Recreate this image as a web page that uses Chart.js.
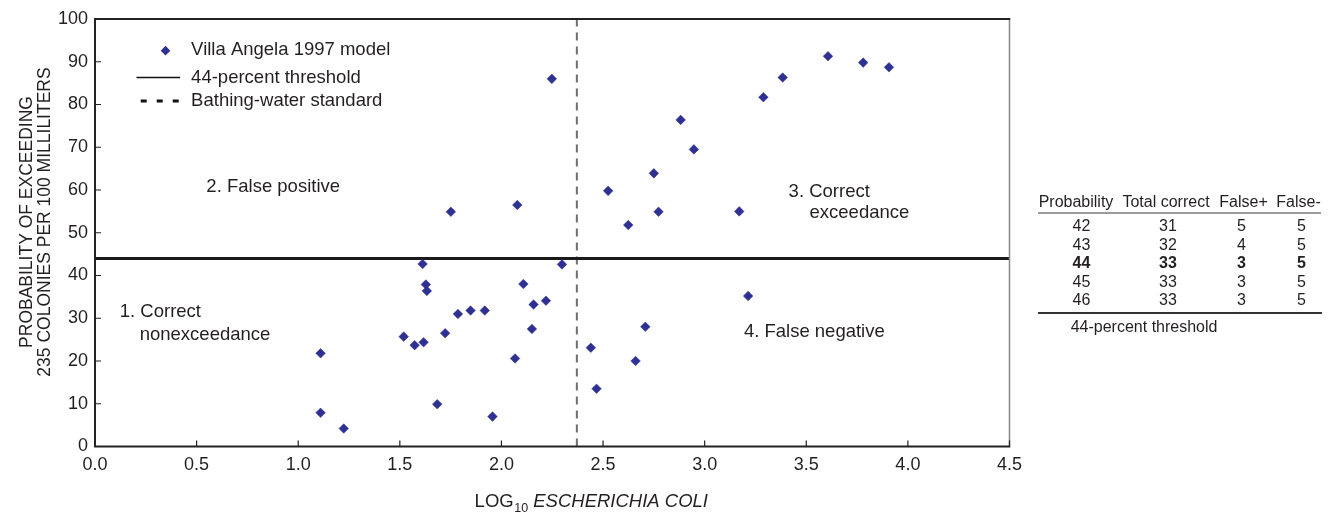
<!DOCTYPE html>
<html>
<head>
<meta charset="utf-8">
<script src="https://cdn.jsdelivr.net/npm/chart.js@4.4.0/dist/chart.umd.min.js"></script>
<style>
  html, body { margin:0; padding:0; background:#fff; width:1333px; height:516px; overflow:hidden;
    font-family:"Liberation Sans", Arial, Helvetica, sans-serif; }
  #wrap { position:absolute; left:0; top:0; width:1030px; height:516px; }
  #tbl { position:absolute; left:0; top:0; width:1333px; height:516px; color:#231f20; font-size:16px; pointer-events:none; }
  .cell { position:absolute; white-space:nowrap; line-height:16px; transform:translate(-50%,-50%); }
  .left { transform:translate(0,-50%); }
  .rule { position:absolute; }
</style>
</head>
<body>
<div id="wrap"><canvas id="chart"></canvas></div>
<div id="tbl"></div>
<script>
// ---------- data ----------
const logEColi = [1.110, 1.110, 1.224, 1.519, 1.573, 1.617, 1.612, 1.628, 1.633, 1.684,
                  1.723, 1.751, 1.786, 1.848, 1.918, 1.956, 2.067, 2.078, 2.108, 2.150,
                  2.158, 2.219, 2.248, 2.298, 2.440, 2.468, 2.525, 2.624, 2.660, 2.708,
                  2.750, 2.773, 2.882, 2.947, 3.170, 3.214, 3.289, 3.384, 3.607, 3.780, 3.907];
const probExceeding = [21.8, 7.9, 4.2, 25.7, 23.7, 24.4, 42.7, 37.9, 36.4, 9.9,
                       26.5, 54.9, 31.0, 31.8, 31.8, 7.0, 20.6, 56.5, 38.0, 27.5,
                       33.2, 34.1, 86.0, 42.6, 23.1, 13.5, 59.8, 51.8, 20.0, 28.0,
                       63.9, 54.9, 76.4, 69.5, 55.0, 35.2, 81.7, 86.3, 91.3, 89.8, 88.7];
const thresholdPercent = 44;
const bathingStandardLog = Math.log10(235);
const xTickValues = [0, 0.5, 1.0, 1.5, 2.0, 2.5, 3.0, 3.5, 4.0, 4.5];
const yTickValues = [0, 10, 20, 30, 40, 50, 60, 70, 80, 90, 100];

const seriesName = 'Villa Angela 1997 model';
const thresholdName = '44-percent threshold';
const standardName = 'Bathing-water standard';

const tableHeaders = ['Probability', 'Total correct', 'False+', 'False-'];
const tableProbability = [42, 43, 44, 45, 46];
const tableTotalCorrect = [31, 32, 33, 33, 33];
const tableFalsePositive = [5, 4, 3, 3, 3];
const tableFalseNegative = [5, 5, 5, 5, 5];
const tableBoldRow = 2;
const tableNote = '44-percent threshold';

// ---------- styles ----------
const FONT = '"Liberation Sans", Arial, Helvetica, sans-serif';
const TEXT = '#231f20';
const MARK = '#2e3092';

const quadrantLabels = [
  { text: '2. False positive', x: 0.548, y: 60.8 },
  { text: '1. Correct', x: 0.122, y: 31.5 },
  { text: 'nonexceedance', x: 0.220, y: 26.1 },
  { text: '3. Correct', x: 3.413, y: 59.6 },
  { text: 'exceedance', x: 3.516, y: 54.7 },
  { text: '4. False negative', x: 3.193, y: 26.9 }
];

const decorPlugin = {
  id: 'decor',
  afterDraw(chart) {
    const ctx = chart.ctx, ca = chart.chartArea;
    const xs = chart.scales.x, ys = chart.scales.y;
    ctx.save();
    // frame
    ctx.lineCap = 'butt';
    ctx.strokeStyle = '#888'; ctx.lineWidth = 1.5;
    ctx.beginPath(); ctx.moveTo(ca.right, ca.top); ctx.lineTo(ca.right, ca.bottom); ctx.stroke();
    ctx.strokeStyle = '#222'; ctx.lineWidth = 2;
    ctx.beginPath();
    ctx.moveTo(ca.left, ca.top); ctx.lineTo(ca.right + 0.75, ca.top);
    ctx.moveTo(ca.left, ca.top - 1); ctx.lineTo(ca.left, ca.bottom + 1);
    ctx.moveTo(ca.left - 1, ca.bottom); ctx.lineTo(ca.right + 0.75, ca.bottom);
    ctx.stroke();
    // inward ticks
    ctx.lineWidth = 1.2;
    ctx.beginPath();
    yTickValues.forEach(v => { const p = ys.getPixelForValue(v); ctx.moveTo(ca.left, p); ctx.lineTo(ca.left + 6, p); });
    xTickValues.forEach(v => { const p = xs.getPixelForValue(v); ctx.moveTo(p, ca.bottom); ctx.lineTo(p, ca.bottom - 6); });
    ctx.stroke();

    // quadrant labels
    ctx.fillStyle = TEXT;
    ctx.font = '18.5px ' + FONT;
    ctx.textAlign = 'left'; ctx.textBaseline = 'middle';
    quadrantLabels.forEach(l => ctx.fillText(l.text, xs.getPixelForValue(l.x), ys.getPixelForValue(l.y)));

    // legend
    const lx = v => xs.getPixelForValue(v), ly = v => ys.getPixelForValue(v);
    const dx = lx(0.347), dy = ly(92.6), r = 4.8;
    ctx.fillStyle = MARK;
    ctx.beginPath(); ctx.moveTo(dx, dy - r); ctx.lineTo(dx + r, dy); ctx.lineTo(dx, dy + r); ctx.lineTo(dx - r, dy); ctx.closePath(); ctx.fill();
    ctx.strokeStyle = '#111'; ctx.lineWidth = 1.5;
    ctx.beginPath(); ctx.moveTo(lx(0.204), ly(86.3)); ctx.lineTo(lx(0.419), ly(86.3)); ctx.stroke();
    ctx.lineWidth = 3; ctx.setLineDash([6, 10]);
    ctx.beginPath(); ctx.moveTo(lx(0.225), ly(80.8)); ctx.lineTo(lx(0.424), ly(80.8)); ctx.stroke();
    ctx.setLineDash([]);
    ctx.fillStyle = TEXT;
    ctx.fillText(seriesName, lx(0.473), ly(92.7));
    ctx.fillText(thresholdName, lx(0.473), ly(86.3));
    ctx.fillText(standardName, lx(0.473), ly(80.8));

    // y-axis title (two lines)
    ctx.font = '17.5px ' + FONT;
    ctx.textAlign = 'center'; ctx.textBaseline = 'alphabetic';
    const tcy = 222;
    [['PROBABILITY OF EXCEEDING', 31.5], ['235 COLONIES PER 100 MILLILITERS', 50]].forEach(([t, bx]) => {
      ctx.save(); ctx.translate(bx, tcy); ctx.rotate(-Math.PI / 2); ctx.fillText(t, 0, 0); ctx.restore();
    });

    // x-axis title: LOG10 ESCHERICHIA COLI
    ctx.textAlign = 'left';
    let tx = lx(1.868); const tby = 506.5;
    ctx.font = '18.5px ' + FONT; ctx.fillText('LOG', tx, tby); tx += ctx.measureText('LOG').width;
    ctx.font = '12.5px ' + FONT; ctx.fillText('10', tx + 0.5, tby + 5.5); tx += ctx.measureText('10').width + 0.5;
    ctx.font = 'italic 18.5px ' + FONT; ctx.fillText(' ESCHERICHIA COLI', tx, tby);
    ctx.restore();
  }
};

new Chart(document.getElementById('chart'), {
  data: {
    datasets: [
      {
        type: 'scatter', label: seriesName,
        data: logEColi.map((x, i) => ({ x, y: probExceeding[i] })),
        pointStyle: 'rectRot', pointRadius: 4.8, pointHoverRadius: 4.8,
        backgroundColor: MARK, borderColor: MARK, borderWidth: 0.5, order: 0
      },
      {
        type: 'line', label: thresholdName,
        data: [{ x: 0, y: thresholdPercent }, { x: 4.5, y: thresholdPercent }],
        borderColor: '#1a1a1a', borderWidth: 3, pointRadius: 0, order: 2
      },
      {
        type: 'line', label: standardName,
        data: [{ x: bathingStandardLog, y: 0 }, { x: bathingStandardLog, y: 100 }],
        borderColor: '#6e6e6e', borderWidth: 2, borderDash: [8, 6], pointRadius: 0, order: 3
      }
    ]
  },
  options: {
    responsive: true, maintainAspectRatio: false, animation: false,
    layout: { padding: { left: 0, top: 19, right: 15, bottom: 0 } },
    plugins: { legend: { display: false }, tooltip: { enabled: false } },
    scales: {
      x: {
        type: 'linear', min: 0, max: 4.5,
        afterBuildTicks: s => { s.ticks = xTickValues.map(v => ({ value: v })); },
        afterFit: s => { s.height = 69.5; },
        ticks: { callback: v => Number(v).toFixed(1), font: { size: 18, family: FONT }, color: TEXT,
                 padding: 8, maxRotation: 0, autoSkip: false },
        grid: { display: false, drawTicks: false }, border: { display: false }
      },
      y: {
        type: 'linear', min: 0, max: 100,
        afterBuildTicks: s => { s.ticks = yTickValues.map(v => ({ value: v })); },
        afterFit: s => { s.width = 95; },
        ticks: { font: { size: 18, family: FONT }, color: TEXT, padding: 7, autoSkip: false },
        grid: { display: false, drawTicks: false }, border: { display: false }
      }
    }
  },
  plugins: [decorPlugin]
});

// ---------- table (HTML text) ----------
(function () {
  const box = document.getElementById('tbl');
  const add = (html, x, y, cls, extra) => {
    const d = document.createElement('div');
    d.className = 'cell' + (cls ? ' ' + cls : '');
    d.style.left = x + 'px'; d.style.top = y + 'px';
    if (extra) Object.assign(d.style, extra);
    d.textContent = html; box.appendChild(d); return d;
  };
  const headerCenters = [1076, 1166, 1243.5, 1298.5];
  const colCenters = [1081.5, 1168, 1241.5, 1301.5];
  tableHeaders.forEach((h, i) => add(h, headerCenters[i], 201.7));
  const rule = (x, y, w, h, c) => {
    const d = document.createElement('div'); d.className = 'rule';
    Object.assign(d.style, { left: x + 'px', top: y + 'px', width: w + 'px', height: h + 'px', background: c });
    box.appendChild(d);
  };
  rule(1038, 212, 283, 2, '#9a9a9a');
  const cols = [tableProbability, tableTotalCorrect, tableFalsePositive, tableFalseNegative];
  tableProbability.forEach((_, r) => {
    const y = 226 + r * 18.5;
    cols.forEach((col, c) => add(String(col[r]), colCenters[c], y, '', r === tableBoldRow ? { fontWeight: 'bold' } : null));
  });
  rule(1038, 312, 284, 1.5, '#333');
  add(tableNote, 1070.7, 326.7, 'left');
})();
</script>
</body>
</html>
